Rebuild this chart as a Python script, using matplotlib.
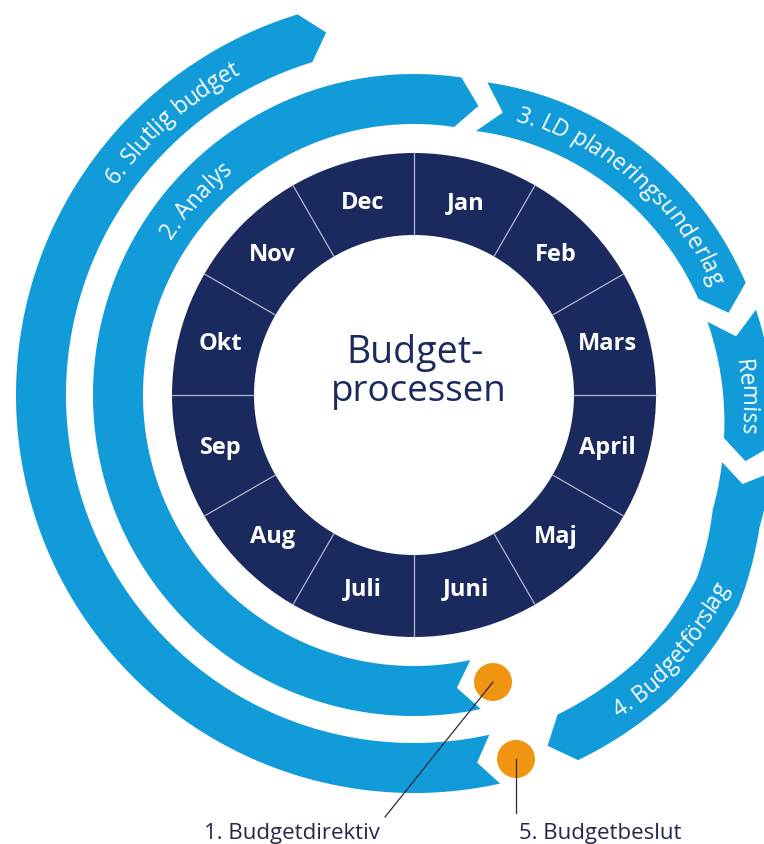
import numpy as np
import matplotlib
matplotlib.use("Agg")
import matplotlib.pyplot as plt
from matplotlib.patches import Polygon, Wedge, Circle
from matplotlib.font_manager import FontProperties
from matplotlib.textpath import TextPath, text_to_path

# --- data -------------------------------------------------------------
months = ["Jan", "Feb", "Mars", "April", "Maj", "Juni",
          "Juli", "Aug", "Sep", "Okt", "Nov", "Dec"]
center_title = ["Budget-", "processen"]

# process steps drawn as arrows around the month wheel
step_labels = ["6. Slutlig budget", "2. Analys", "3. LD planeringsunderlag",
               "Remiss", "4. Budgetförslag"]
step_label_angle = [131.5, 138, 45, 0, -44.5]   # mid angle of the text (deg)
milestones = ["1. Budgetdirektiv", "5. Budgetbeslut"]

# --- style --------------------------------------------------------------
BLUE = "#119bd8"
NAVY = "#1b2a5e"
ORANGE = "#ef9511"
FONT = "Open Sans"

W, H = 764, 845
cx, cy = 414, 396

fig = plt.figure(figsize=(W / 100, H / 100), dpi=100)
ax = fig.add_axes([0, 0, 1, 1])
ax.set_xlim(0, W)
ax.set_ylim(H, 0)
ax.set_aspect("equal")
ax.axis("off")

PX = 100 / 72  # pixels per point


def pt(r, t):
    t = np.radians(t)
    return cx + r * np.cos(t), cy - r * np.sin(t)


def const(r):
    return lambda t: np.full_like(np.asarray(t, float), r)


# outer spiral on the right side (radius grows going clockwise)
sp_t = [-69, -50, -33, -21, -8, 19, 77]
sp_r = [376, 372, 362, 345, 338, 325, 296]


def spiral(t):
    return np.interp(t, sp_t, sp_r)


def band(t0, t1, rfn, w=50, head=22, notch=18):
    # arrow going from t0 to t1 (clockwise when t1 < t0)
    s = np.sign(t1 - t0)
    ts = np.linspace(t0, t1, 300)
    r = rfn(ts)
    outer = [pt(rr + w / 2, tt) for rr, tt in zip(r, ts)]
    inner = [pt(rr - w / 2, tt) for rr, tt in zip(r[::-1], ts[::-1])]
    rm1 = float(rfn(t1))
    rm0 = float(rfn(t0))
    tip = pt(rm1, t1 + s * np.degrees(head / rm1))
    nch = pt(rm0, t0 + s * np.degrees(notch / rm0))
    verts = outer + [tip] + inner + [nch]
    ax.add_patch(Polygon(verts, closed=True, fc=BLUE, ec="none", zorder=2))


def arc_text(s, tmid, rfn, fs, cw=True, color="white"):
    fp = FontProperties(family=FONT, size=fs)
    wid = lambda x: text_to_path.get_text_width_height_descent(x, fp, ismath=False)[0] * PX if x else 0.0
    total = wid(s)
    off = 0.33 * fs * PX
    r0 = float(rfn(tmid)) + (-off if cw else off)
    for i, ch in enumerate(s):
        if ch == " ":
            continue
        a0, a1 = wid(s[:i]), wid(s[:i + 1])
        ext = TextPath((0, 0), ch, size=fs * PX, prop=fp).get_extents()
        # shift from advance centre to ink centre (text is drawn ink-centred)
        shift = (ext.x0 + ext.x1) / 2 - (wid(ch) / 2)
        c = (a0 + a1) / 2 + shift
        d = np.degrees((total / 2 - c) / r0)
        t = tmid + d if cw else tmid - d
        rb = float(rfn(t)) + (-off if cw else off)
        x, y = pt(rb, t)
        rot = t - 90 if cw else t + 90
        ax.text(x, y, ch, fontproperties=fp, color=color, ha="center",
                va="baseline", rotation=rot, rotation_mode="anchor", zorder=4)


# --- month wheel --------------------------------------------------------
ax.add_patch(Wedge((cx, cy), 242, 0, 360, width=82, fc=NAVY, ec="none", zorder=1))
for k in range(12):
    a = 90 - 30 * k
    x0, y0 = pt(160, a)
    x1, y1 = pt(242, a)
    ax.plot([x0, x1], [y0, y1], color="#aeb6d2", lw=0.9, zorder=3)
    mx, my = pt(200, a - 15)
    ax.text(mx, my, months[k], family=FONT, weight="bold", size=17,
            color="white", ha="center", va="center", zorder=4)

ax.text(415, 363, center_title[0], family=FONT, size=27, color=NAVY,
        ha="center", va="baseline", zorder=4)
ax.text(419, 401, center_title[1], family=FONT, size=26.5, color=NAVY,
        ha="center", va="baseline", zorder=4)

# --- process arrows -----------------------------------------------------
r_outer = const(373)
r_inner = const(296)
band(-77.5, 107 - 360, r_outer)                     # 6. Slutlig budget
band(-78, 81.5 - 360, r_inner, head=21, notch=19)   # 2. Analys
band(76.8, 18.7, spiral, head=23, notch=22)         # 3. LD planeringsunderlag
band(14, -7.9, spiral, head=20, notch=21)           # Remiss
band(-12.3, -65.8, spiral, head=22, notch=17)       # 4. Budgetförslag

rfns = [r_outer, r_inner, spiral, spiral, spiral]
for lab, ang, rf in zip(step_labels, step_label_angle, rfns):
    arc_text(lab, ang, rf, 16.3, cw=(lab != "4. Budgetförslag"))

# --- milestones -----------------------------------------------------------
dots = [(493, 683), (516, 760)]
lab_xy = [(292, 839), (600, 839)]
line_end = [(385, 818), (516, 814)]
for (dx, dy), (lx, ly), (ex, ey), lab in zip(dots, lab_xy, line_end, milestones):
    ax.plot([dx, ex], [dy, ey], color="#2b2b3a", lw=0.9, zorder=6)
    ax.add_patch(Circle((dx, dy), 19, fc=ORANGE, ec="none", zorder=5))
    ax.text(lx, ly, lab, family=FONT, size=16, color="#26284a",
            ha="center", va="baseline", zorder=4)

fig.savefig("out.png", dpi=100)
